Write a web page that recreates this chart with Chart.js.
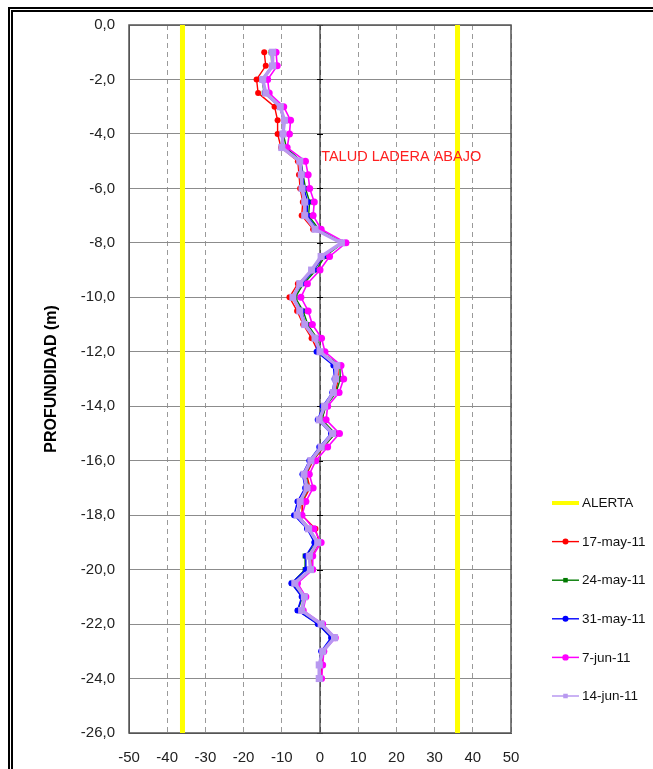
<!DOCTYPE html>
<html><head><meta charset="utf-8">
<script src="https://cdn.jsdelivr.net/npm/chart.js@4.4.1/dist/chart.umd.min.js"></script>
<style>
html,body{margin:0;padding:0;background:#fff;overflow:hidden;}
#wrap{position:relative;width:653px;height:769px;overflow:hidden;}
#frame{position:absolute;left:8px;top:7px;width:720px;height:820px;border:5px double #000;box-sizing:border-box;}
#c{position:absolute;left:0;top:0;}
</style></head><body>
<div id="wrap"><div id="frame"></div><canvas id="c" width="653" height="769"></canvas></div>
<script>
// ---------- DATA ----------
const DEPTHS = [-1,-1.5,-2,-2.5,-3,-3.5,-4,-4.5,-5,-5.5,-6,-6.5,-7,-7.5,-8,-8.5,-9,-9.5,-10,-10.5,-11,-11.5,-12,-12.5,-13,-13.5,-14,-14.5,-15,-15.5,-16,-16.5,-17,-17.5,-18,-18.5,-19,-19.5,-20,-20.5,-21,-21.5,-22,-22.5,-23,-23.5,-24];
const SERIES_LABELS = ['17-may-11','24-may-11','31-may-11','7-jun-11','14-jun-11'];
const S_17MAY = [-14.6,-14.2,-16.6,-16.2,-11.9,-11.1,-11.1,-10.2,-5.8,-5.5,-5.2,-4.5,-4.8,-1.8,5.8,1.0,-1.8,-5.8,-8.0,-6.0,-4.4,-2.2,-0.5,4.6,4.8,4.0,1.4,0.5,3.8,1.0,-1.8,-3.5,-2.6,-4.5,-4.7,-1.2,-0.2,-2.2,-2.2,-6.0,-3.8,-4.6,0.5,3.5,1.0,0.5,0.4];
const S_24MAY = [-12.8,-12.6,-15.2,-14.6,-10.6,-9.5,-9.6,-8.8,-5.0,-4.4,-3.8,-2.7,-3.0,-0.3,6.0,1.3,-1.0,-4.3,-6.5,-4.4,-3.2,-0.8,0.2,5.2,5.3,4.2,1.5,0.5,4.0,0.8,-2.0,-3.8,-3.0,-4.8,-5.8,-2.6,-0.8,-3.9,-3.9,-7.4,-4.6,-5.8,-0.4,3.1,0.5,0.0,0.0];
const S_31MAY = [-12.6,-12.5,-15.0,-14.4,-10.5,-9.4,-9.8,-9.5,-5.0,-4.6,-4.2,-3.2,-3.4,-0.8,5.8,0.8,-1.6,-4.8,-7.0,-4.8,-3.8,-1.0,-0.9,3.5,3.8,3.2,0.7,-0.6,2.9,-0.2,-2.8,-4.6,-3.9,-5.9,-6.8,-3.4,-1.5,-3.7,-3.7,-7.5,-4.8,-5.9,-0.6,2.9,0.3,-0.2,-0.2];
const S_7JUN  = [-11.5,-11.2,-13.7,-13.3,-9.5,-7.7,-8.0,-8.6,-3.8,-3.1,-2.7,-1.5,-1.8,0.3,6.8,2.5,0.0,-3.3,-5.0,-3.1,-2.0,0.4,1.3,5.5,6.2,5.0,2.0,1.6,5.1,2.0,-1.1,-2.8,-1.8,-3.7,-4.7,-1.6,0.3,-1.9,-1.9,-5.9,-3.7,-4.4,0.7,4.0,1.0,0.7,0.4];
const S_14JUN = [-12.4,-12.4,-15.0,-14.2,-10.4,-9.3,-9.7,-10.0,-5.3,-4.9,-4.7,-4.0,-4.0,-1.3,5.6,0.3,-2.2,-5.3,-7.1,-5.3,-4.0,-1.3,0.0,4.4,4.1,3.5,1.2,-0.2,3.3,0.3,-2.4,-4.2,-3.4,-5.2,-6.0,-3.0,-0.6,-2.8,-2.5,-6.6,-4.1,-4.8,0.3,3.8,0.7,-0.2,-0.2];
const ALERT_LABEL = 'ALERTA';
const ALERT_LIMITS = [-36, 36];
const X_TICKS = [-50,-40,-30,-20,-10,0,10,20,30,40,50];
const Y_TICKS = [0,-2,-4,-6,-8,-10,-12,-14,-16,-18,-20,-22,-24,-26];
const NOTE_TEXT = 'TALUD LADERA ABAJO';
const NOTE_AT = {x: 0.3, y: -4.85};
const Y_TITLE = 'PROFUNDIDAD (m)';

// ---------- STYLE ----------
const FONT = '"Liberation Sans", Arial, sans-serif';
const STYLES = [
  {color:'#ff0000', point:'circle', r:3, w:1.4},
  {color:'#007a00', point:'rect', r:3.5, w:1.4},
  {color:'#0000ff', point:'circle', r:3, w:1.4},
  {color:'#ff00ff', point:'circle', r:3.5, w:1.6},
  {color:'#b898f0', point:'rect', r:5, w:3.5}
];
const LEGEND_X = 552, LEGEND_Y0 = 503, LEGEND_STEP = 38.6, LEGEND_LINE = 27;

const yMin = Math.min(...Y_TICKS), yMax = Math.max(...Y_TICKS);
const xMin = Math.min(...X_TICKS), xMax = Math.max(...X_TICKS);
const SERIES = [S_17MAY, S_24MAY, S_31MAY, S_7JUN, S_14JUN];

const datasets = [{
  label: ALERT_LABEL,
  data: [{x:ALERT_LIMITS[0],y:yMax},{x:ALERT_LIMITS[0],y:yMin},{x:null,y:null},{x:ALERT_LIMITS[1],y:yMin},{x:ALERT_LIMITS[1],y:yMax}],
  showLine:true, borderColor:'#ffff00', borderWidth:5, pointRadius:0, spanGaps:false, order:10,
  clip:{left:0,right:0,top:0,bottom:4},
  _legend:{color:'#ffff00', w:4, point:null}
}];
SERIES.forEach((vals, i) => {
  const st = STYLES[i];
  datasets.push({
    label: SERIES_LABELS[i],
    data: vals.map((v, k) => ({x:v, y:DEPTHS[k]})),
    showLine:true, borderColor:st.color, backgroundColor:st.color, borderWidth:st.w,
    pointStyle:st.point, pointRadius:st.r, pointBorderWidth:0, pointBackgroundColor:st.color,
    tension:0, order: 9 - i,
    _legend:{color:st.color, w:Math.min(st.w,1.5), point:st.point, r:Math.min(st.r,3.2)}
  });
});

function drawMarker(ctx, style, r, x, y){
  if(style==='circle'){ ctx.beginPath(); ctx.arc(x,y,r,0,Math.PI*2); ctx.fill(); }
  else if(style==='rect'){ const s=r*1.414; ctx.fillRect(x-s/2,y-s/2,s,s); }
}

const decor = {
  id:'decor',
  beforeDatasetsDraw(chart){
    const {ctx, chartArea:a, scales:{x, y}} = chart;
    const x0 = x.getPixelForValue(0);
    ctx.save();
    ctx.strokeStyle = '#000'; ctx.lineWidth = 1;
    ctx.beginPath(); ctx.moveTo(x0, a.top); ctx.lineTo(x0, a.bottom); ctx.stroke();
    Y_TICKS.forEach(t => { const py = Math.round(y.getPixelForValue(t))+0.5;
      ctx.beginPath(); ctx.moveTo(x0-3, py); ctx.lineTo(x0+3, py); ctx.stroke(); });
    ctx.strokeStyle = '#555'; ctx.lineWidth = 1.5;
    ctx.strokeRect(a.left, a.top, a.right-a.left, a.bottom-a.top);
    ctx.restore();
  },
  afterDatasetsDraw(chart){
    const {ctx, scales:{x, y}} = chart;
    ctx.save();
    ctx.font = '14.5px ' + FONT; ctx.fillStyle = '#ff2020';
    ctx.textAlign = 'left'; ctx.textBaseline = 'middle';
    ctx.fillText(NOTE_TEXT, x.getPixelForValue(NOTE_AT.x), y.getPixelForValue(NOTE_AT.y));
    ctx.restore();
  },
  afterDraw(chart){
    const ctx = chart.ctx;
    ctx.save();
    chart.data.datasets.forEach((ds, i) => {
      const L = ds._legend; const ly = LEGEND_Y0 + i*LEGEND_STEP;
      ctx.strokeStyle = L.color; ctx.lineWidth = L.w;
      ctx.beginPath(); ctx.moveTo(LEGEND_X, ly); ctx.lineTo(LEGEND_X+LEGEND_LINE, ly); ctx.stroke();
      if (L.point){ ctx.fillStyle = L.color; drawMarker(ctx, L.point, L.r, LEGEND_X+LEGEND_LINE/2, ly); }
      ctx.fillStyle = '#111'; ctx.font = '13.5px ' + FONT; ctx.textBaseline = 'middle'; ctx.textAlign='left';
      ctx.fillText(ds.label, LEGEND_X+LEGEND_LINE+3, ly+0.5);
    });
    ctx.restore();
  }
};

new Chart(document.getElementById('c'), {
  type:'scatter',
  data:{datasets},
  options:{
    responsive:false, animation:false,
    layout:{padding:{left:0, right:142, top:25, bottom:0}},
    plugins:{legend:{display:false}, tooltip:{enabled:false}},
    scales:{
      x:{type:'linear', min:xMin, max:xMax,
        afterBuildTicks(s){ s.ticks = X_TICKS.map(v=>({value:v})); },
        afterFit(s){ s.height = 36; },
        grid:{color:'#9a9a9a', lineWidth:1, drawTicks:false},
        border:{display:true, color:'#555', dash:[5,4]},
        ticks:{padding:16, color:'#222', font:{family:FONT, size:15}, callback:v=>String(v)}
      },
      y:{type:'linear', min:yMin, max:yMax,
        afterBuildTicks(s){ s.ticks = Y_TICKS.map(v=>({value:v})); },
        afterFit(s){ s.width = 129; },
        grid:{color:'#8c8c8c', lineWidth:1, drawTicks:false},
        border:{display:true, color:'#555'},
        ticks:{padding:14, color:'#222', font:{family:FONT, size:15}, callback:v=>(v===0?0:v).toFixed(1).replace('.',',')},
        title:{display:true, text:Y_TITLE, color:'#000', font:{family:FONT, size:16, weight:'bold'}, padding:{top:42, bottom:0}}
      }
    }
  },
  plugins:[decor]
});
</script>
</body></html>
